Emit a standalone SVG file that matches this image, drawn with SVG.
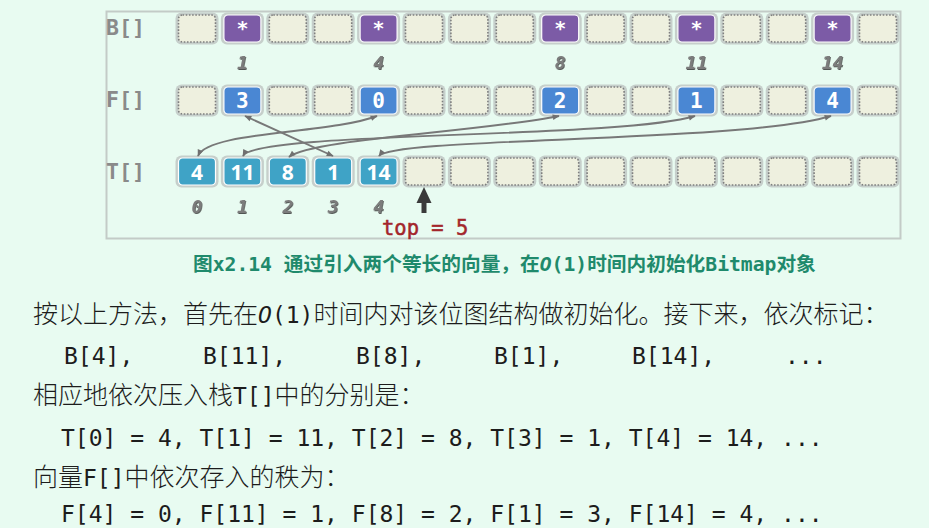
<svg xmlns="http://www.w3.org/2000/svg" xmlns:xlink="http://www.w3.org/1999/xlink" width="929" height="528" viewBox="0 0 929 528">
<style>
.mono{font-family:"DejaVu Sans Mono","Liberation Mono","Noto Sans CJK SC",monospace}
.halo{fill:#c6cfcb}
.empty{fill:#eef0df;stroke:#7f7f7f;stroke-width:1.6;stroke-dasharray:1.6 1.6}
.bcell{fill:#7c5ba6;stroke:#ffffff;stroke-width:1.2}
.fcell{fill:#4a87d3;stroke:#ffffff;stroke-width:1.2}
.tcell{fill:#3fa3c6;stroke:#ffffff;stroke-width:1.2}
.star{font-family:"DejaVu Sans Mono",monospace;font-weight:bold;font-size:20px;fill:#fff;text-anchor:middle}
.fnum{font-family:"DejaVu Sans Mono",monospace;font-weight:bold;font-size:21px;fill:#fff;text-anchor:middle}
.tnum{font-family:"Open Sans","DejaVu Sans",sans-serif;font-weight:bold;font-size:21px;fill:#fff;text-anchor:middle}
.idx{font-family:"DejaVu Sans Mono",monospace;font-weight:bold;font-style:italic;font-size:18px;fill:#7c7c7c;text-anchor:middle;filter:url(#sh)}
.rowlab{font-family:"DejaVu Sans Mono",monospace;font-weight:bold;font-size:21.5px;fill:#8a8a8a}
.conn{fill:none;stroke:#787878;stroke-width:1.9;marker-start:url(#ah);marker-end:url(#ah)}
.cap{font-family:"DejaVu Sans Mono","Noto Sans CJK SC",sans-serif;font-weight:bold;font-size:19.7px;fill:#1f8a6c}
.body{font-family:"DejaVu Sans Mono","Noto Sans CJK SC",sans-serif;fill:#1c1c1c}
.cjk{font-family:"Noto Sans CJK SC",sans-serif;font-size:25px;font-weight:300}
.m{font-family:"DejaVu Sans Mono",monospace;font-size:23px}
</style>
<defs>
<filter id="sh" x="-30%" y="-30%" width="160%" height="160%">
<feDropShadow dx="0.8" dy="1" stdDeviation="0.5" flood-color="#2a2a2a" flood-opacity="0.8"/>
</filter>
<marker id="ah" viewBox="0 0 10 10" refX="9" refY="5" markerWidth="8" markerHeight="7" markerUnits="userSpaceOnUse" orient="auto-start-reverse">
<path d="M0,1 L10,5 L0,9 Z" fill="#707070"/>
</marker>
<g id="E"><rect class="halo" x="-0.5" y="-2.5" width="43" height="32" rx="6"/><rect class="empty" x="2.5" y="0" width="37" height="27" rx="4"/></g>
<g id="BC"><rect class="halo" x="-0.5" y="-2.5" width="43" height="32" rx="6"/><rect class="bcell" x="2.5" y="0" width="37" height="27" rx="4"/></g>
<g id="FC"><rect class="halo" x="-0.5" y="-2.5" width="43" height="32" rx="6"/><rect class="fcell" x="2.5" y="0" width="37" height="27" rx="4"/></g>
<g id="TC"><rect class="halo" x="-0.5" y="-2.5" width="43" height="32" rx="6"/><rect class="tcell" x="2.5" y="0" width="37" height="27" rx="4"/></g>
</defs>
<rect x="0" y="0" width="929" height="528" fill="#e8fbf1"/>
<rect x="106.5" y="11.5" width="794" height="227" fill="none" stroke="#c3cbc7" stroke-width="2"/>

<g id="labels">
<text class="rowlab" x="106" y="35">B[]</text>
<text class="rowlab" x="106" y="107">F[]</text>
<text class="rowlab" x="106" y="179">T[]</text>
</g>

<g id="rowB">
<g id="B0"><use href="#E" x="176" y="15"/></g>
<g id="B1"><use href="#BC" x="221.4" y="15"/><text class="star" x="242.4" y="35">*</text></g>
<g id="B2"><use href="#E" x="266.8" y="15"/></g>
<g id="B3"><use href="#E" x="312.2" y="15"/></g>
<g id="B4"><use href="#BC" x="357.6" y="15"/><text class="star" x="378.6" y="35">*</text></g>
<g id="B5"><use href="#E" x="403" y="15"/></g>
<g id="B6"><use href="#E" x="448.4" y="15"/></g>
<g id="B7"><use href="#E" x="493.8" y="15"/></g>
<g id="B8"><use href="#BC" x="539.2" y="15"/><text class="star" x="560.2" y="35">*</text></g>
<g id="B9"><use href="#E" x="584.6" y="15"/></g>
<g id="B10"><use href="#E" x="630" y="15"/></g>
<g id="B11"><use href="#BC" x="675.4" y="15"/><text class="star" x="696.4" y="35">*</text></g>
<g id="B12"><use href="#E" x="720.8" y="15"/></g>
<g id="B13"><use href="#E" x="766.2" y="15"/></g>
<g id="B14"><use href="#BC" x="811.6" y="15"/><text class="star" x="832.6" y="35">*</text></g>
<g id="B15"><use href="#E" x="857" y="15"/></g>
</g>

<g id="bIndex">
<text class="idx" x="242.4" y="69">1</text>
<text class="idx" x="378.6" y="69">4</text>
<text class="idx" x="560.2" y="69">8</text>
<text class="idx" x="696.4" y="69">11</text>
<text class="idx" x="832.6" y="69">14</text>
</g>

<g id="rowF">
<g id="F0"><use href="#E" x="176" y="87"/></g>
<g id="F1"><use href="#FC" x="221.4" y="87"/><text class="fnum" x="242.4" y="107.5">3</text></g>
<g id="F2"><use href="#E" x="266.8" y="87"/></g>
<g id="F3"><use href="#E" x="312.2" y="87"/></g>
<g id="F4"><use href="#FC" x="357.6" y="87"/><text class="fnum" x="378.6" y="107.5">0</text></g>
<g id="F5"><use href="#E" x="403" y="87"/></g>
<g id="F6"><use href="#E" x="448.4" y="87"/></g>
<g id="F7"><use href="#E" x="493.8" y="87"/></g>
<g id="F8"><use href="#FC" x="539.2" y="87"/><text class="fnum" x="560.2" y="107.5">2</text></g>
<g id="F9"><use href="#E" x="584.6" y="87"/></g>
<g id="F10"><use href="#E" x="630" y="87"/></g>
<g id="F11"><use href="#FC" x="675.4" y="87"/><text class="fnum" x="696.4" y="107.5">1</text></g>
<g id="F12"><use href="#E" x="720.8" y="87"/></g>
<g id="F13"><use href="#E" x="766.2" y="87"/></g>
<g id="F14"><use href="#FC" x="811.6" y="87"/><text class="fnum" x="832.6" y="107.5">4</text></g>
<g id="F15"><use href="#E" x="857" y="87"/></g>
</g>

<g id="rowT">
<g id="T0"><use href="#TC" x="176" y="158"/><text class="tnum" x="197" y="179.5">4</text></g>
<g id="T1"><use href="#TC" x="221.4" y="158"/><text class="tnum" x="242.4" y="179.5">11</text></g>
<g id="T2"><use href="#TC" x="266.8" y="158"/><text class="tnum" x="287.8" y="179.5">8</text></g>
<g id="T3"><use href="#TC" x="312.2" y="158"/><text class="tnum" x="333.2" y="179.5">1</text></g>
<g id="T4"><use href="#TC" x="357.6" y="158"/><text class="tnum" x="378.6" y="179.5">14</text></g>
<g id="T5"><use href="#E" x="403" y="158"/></g>
<g id="T6"><use href="#E" x="448.4" y="158"/></g>
<g id="T7"><use href="#E" x="493.8" y="158"/></g>
<g id="T8"><use href="#E" x="539.2" y="158"/></g>
<g id="T9"><use href="#E" x="584.6" y="158"/></g>
<g id="T10"><use href="#E" x="630" y="158"/></g>
<g id="T11"><use href="#E" x="675.4" y="158"/></g>
<g id="T12"><use href="#E" x="720.8" y="158"/></g>
<g id="T13"><use href="#E" x="766.2" y="158"/></g>
<g id="T14"><use href="#E" x="811.6" y="158"/></g>
<g id="T15"><use href="#E" x="857" y="158"/></g>
</g>

<g id="tIndex">
<text class="idx" x="197" y="213">0</text>
<text class="idx" x="242.4" y="213">1</text>
<text class="idx" x="287.8" y="213">2</text>
<text class="idx" x="333.2" y="213">3</text>
<text class="idx" x="378.6" y="213">4</text>
</g>

<g id="connectors">
<path class="conn" d="M198,156 C208,131 330,134 377,116"/>
<path class="conn" d="M243,156 C255,131 620,139 695,116"/>
<path class="conn" d="M289,157 C310,139 480,132 559,116"/>
<path class="conn" d="M333,156 L245,116"/>
<path class="conn" d="M379,156 C392,137 740,143 831,116"/>
</g>

<g id="topPointer">
<path d="M424,187 L431.5,203 L426.5,203 L426.5,213 L421.5,213 L421.5,203 L416.5,203 Z" fill="#3a3a3a"/>
<text x="382" y="235" font-family="DejaVu Sans Mono, monospace" font-size="20.5" fill="#a3262b" stroke="#a3262b" stroke-width="0.5">top = 5</text>
</g>

<text class="cap" x="193" y="271">图<tspan>x2.14 </tspan>通过引入两个等长的向量，在<tspan font-style="italic">O</tspan>(1)时间内初始化Bitmap对象</text>

<g id="bodyText" class="body">
<text y="323"><tspan class="cjk" x="33">按以上方法，首先在</tspan><tspan class="m" font-style="italic">O</tspan><tspan class="m">(1)</tspan><tspan class="cjk">时间内对该位图结构做初始化。接下来，依次标记：</tspan></text>
<text class="m" y="363.5"><tspan x="64">B[4],</tspan><tspan x="203">B[11],</tspan><tspan x="356">B[8],</tspan><tspan x="494">B[1],</tspan><tspan x="632">B[14],</tspan><tspan x="785">...</tspan></text>
<text y="404"><tspan class="cjk" x="33">相应地依次压入栈</tspan><tspan class="m">T[]</tspan><tspan class="cjk">中的分别是：</tspan></text>
<text class="m" x="61" y="446">T[0] = 4, T[1] = 11, T[2] = 8, T[3] = 1, T[4] = 14, ...</text>
<text y="486"><tspan class="cjk" x="33">向量</tspan><tspan class="m">F[]</tspan><tspan class="cjk">中依次存入的秩为：</tspan></text>
<text class="m" x="61" y="522">F[4] = 0, F[11] = 1, F[8] = 2, F[1] = 3, F[14] = 4, ...</text>
</g>
</svg>
